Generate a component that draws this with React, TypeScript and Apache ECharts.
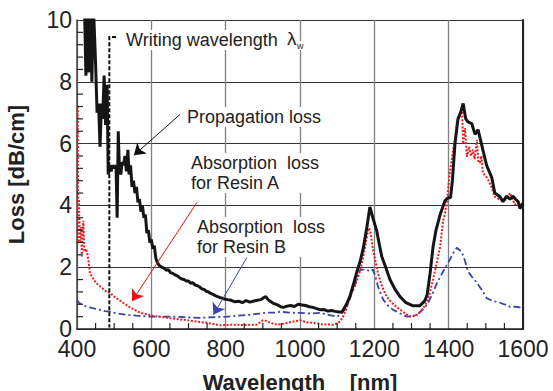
import React, { useEffect, useRef } from "react";
import * as echarts from "echarts";

const xTicks = { min: 400, max: 1600, interval: 200 };
const yTicks = { min: 0, max: 10, interval: 2 };
const xMinorTicks = [450, 500, 550, 650, 700, 750, 850, 900, 950, 1050, 1100, 1150, 1250, 1300, 1350, 1450, 1500, 1550];
const yMinorTicks = [0.4, 0.8, 1.2, 1.6, 2.4, 2.8, 3.2, 3.6, 4.4, 4.8, 5.2, 5.6, 6.4, 6.8, 7.2, 7.6, 8.4, 8.8, 9.2, 9.6];

const propagationLoss: [number, number][] = [
  [420, 10.5], [424, 8.2], [427, 10.5], [432, 8.3], [436, 10.5], [440, 8.0], [444, 10.5], [450, 8.6],
  [454, 7.0], [458, 7.3], [462, 5.9], [466, 7.3], [469, 6.8], [473, 8.2], [477, 6.6], [481, 7.9],
  [484, 5.0], [488, 5.3], [492, 5.1], [495, 5.3], [500, 5.2], [505, 5.3], [508, 3.6], [511, 6.4],
  [514, 5.2], [518, 5.0], [521, 5.4], [525, 5.3], [529, 5.6], [533, 5.1], [537, 5.8], [540, 5.0],
  [544, 5.3], [548, 4.6], [552, 4.8], [556, 4.4], [560, 4.6], [564, 4.1], [568, 4.2], [572, 3.8],
  [576, 4.0], [580, 3.6], [584, 3.7], [588, 3.1], [592, 3.2], [596, 2.8], [600, 2.9], [604, 2.6],
  [608, 2.7], [612, 2.3], [616, 2.15], [622, 2.05], [628, 2.0], [634, 1.97], [640, 1.9], [646, 1.92],
  [652, 1.82], [658, 1.8], [664, 1.75], [670, 1.72], [676, 1.66], [682, 1.62], [688, 1.6], [694, 1.55],
  [700, 1.55], [706, 1.48], [712, 1.5], [718, 1.42], [724, 1.4], [730, 1.36], [736, 1.3], [742, 1.28],
  [748, 1.22], [754, 1.2], [760, 1.15], [766, 1.12], [772, 1.08], [778, 1.05], [784, 1.02], [790, 1.0],
  [797, 0.97], [805, 0.95], [815, 0.93], [825, 0.88], [835, 0.9], [845, 0.85], [855, 0.92], [865, 0.87],
  [874, 0.9], [885, 0.93], [895, 0.95], [903, 1.02], [908, 1.05], [914, 0.95], [922, 0.88], [930, 0.82],
  [940, 0.78], [948, 0.72], [956, 0.7], [965, 0.74], [975, 0.76], [985, 0.73], [995, 0.8], [1005, 0.78],
  [1015, 0.76], [1025, 0.72], [1035, 0.7], [1045, 0.66], [1055, 0.62], [1065, 0.63], [1075, 0.58],
  [1085, 0.6], [1095, 0.57], [1105, 0.55], [1113, 0.55], [1125, 0.8], [1134, 1.05], [1145, 1.5],
  [1153, 1.85], [1162, 2.2], [1170, 2.6], [1180, 3.3], [1188, 3.95], [1196, 3.6], [1206, 3.2],
  [1214, 2.7], [1220, 2.35], [1232, 1.95], [1242, 1.6], [1255, 1.3], [1269, 1.05], [1285, 0.85],
  [1304, 0.75], [1322, 0.75], [1335, 0.9], [1342, 1.1], [1350, 1.8], [1358, 2.66], [1366, 3.2],
  [1377, 3.7], [1390, 4.15], [1398, 4.25], [1405, 4.25], [1410, 4.8], [1417, 6.0], [1425, 6.8],
  [1432, 7.0], [1439, 7.3], [1446, 6.8], [1452, 6.7], [1462, 6.65], [1471, 6.3], [1479, 6.45],
  [1489, 5.95], [1502, 5.3], [1516, 4.9], [1524, 4.4], [1538, 4.28], [1546, 4.12], [1556, 4.3],
  [1565, 4.2], [1573, 4.3], [1580, 4.2], [1587, 4.12], [1592, 3.9], [1600, 4.08],
];

const resinA: [number, number][] = [
  [402, 7.2], [402.5, 4.5], [403, 2.8], [405, 4.2], [408, 2.8], [411, 3.3], [413, 2.35], [417, 3.5],
  [420, 2.5], [424, 2.6], [427, 2.47], [431, 2.2], [435, 1.8], [440, 1.7], [448, 1.55], [455, 1.45],
  [462, 1.38], [470, 1.3], [480, 1.2], [489, 1.17], [500, 1.05], [512, 0.95], [524, 0.85], [540, 0.72],
  [555, 0.62], [569, 0.53], [590, 0.47], [605, 0.42], [623, 0.4], [650, 0.35], [685, 0.3], [715, 0.25],
  [750, 0.2], [785, 0.12], [820, 0.14], [850, 0.13], [884, 0.14], [900, 0.28], [908, 0.27], [920, 0.2],
  [938, 0.14], [960, 0.18], [985, 0.25], [1000, 0.28], [1018, 0.22], [1035, 0.2], [1060, 0.15],
  [1089, 0.14], [1100, 0.18], [1108, 0.25], [1116, 0.4], [1125, 0.65], [1134, 1.05], [1148, 1.4],
  [1161, 1.85], [1168, 2.2], [1175, 2.66], [1182, 3.1], [1186, 3.27], [1190, 3.1], [1196, 2.6],
  [1203, 2.2], [1210, 1.8], [1220, 1.4], [1233, 1.05], [1247, 0.85], [1261, 0.7], [1278, 0.55],
  [1296, 0.4], [1305, 0.42], [1315, 0.46], [1330, 0.65], [1342, 0.88], [1350, 1.2], [1358, 1.6],
  [1367, 2.1], [1377, 2.66], [1385, 3.5], [1390, 3.75], [1395, 4.1], [1403, 5.05], [1412, 5.8],
  [1418, 6.2], [1422, 6.67], [1430, 6.9], [1436, 7.1], [1439, 6.0], [1444, 6.5], [1449, 5.57],
  [1455, 5.9], [1460, 5.6], [1465, 5.8], [1470, 5.5], [1476, 6.12], [1480, 5.4], [1484, 5.38],
  [1488, 5.6], [1492, 5.05], [1500, 4.95], [1506, 4.83], [1515, 4.6], [1524, 4.28], [1535, 4.2],
  [1552, 4.18], [1560, 4.3], [1565, 4.4], [1572, 4.2], [1578, 4.02], [1585, 4.1], [1592, 4.02],
  [1600, 4.02],
];

const resinB: [number, number][] = [
  [400, 0.95], [405, 0.85], [412, 0.8], [420, 0.75], [427, 0.72], [440, 0.68], [450, 0.65], [462, 0.62],
  [475, 0.58], [489, 0.56], [510, 0.5], [534, 0.46], [560, 0.43], [596, 0.4], [620, 0.4], [658, 0.4],
  [690, 0.38], [731, 0.36], [765, 0.38], [803, 0.4], [830, 0.43], [865, 0.46], [890, 0.5], [911, 0.53],
  [938, 0.53], [946, 0.56], [970, 0.53], [1000, 0.52], [1030, 0.5], [1054, 0.52], [1080, 0.45],
  [1100, 0.4], [1112, 0.5], [1126, 0.72], [1135, 1.0], [1143, 1.27], [1152, 1.6], [1161, 1.9],
  [1167, 1.92], [1180, 1.92], [1188, 1.86], [1196, 1.92], [1203, 1.7], [1210, 1.37], [1217, 1.15],
  [1224, 0.95], [1237, 0.75], [1251, 0.62], [1270, 0.5], [1288, 0.4], [1300, 0.42], [1315, 0.46],
  [1328, 0.6], [1342, 0.79], [1355, 1.1], [1369, 1.5], [1385, 1.86], [1395, 2.08], [1403, 2.24],
  [1412, 2.45], [1422, 2.63], [1430, 2.55], [1436, 2.47], [1444, 2.2], [1452, 1.86], [1465, 1.65],
  [1476, 1.5], [1490, 1.25], [1502, 1.0], [1520, 0.9], [1538, 0.85], [1550, 0.8], [1565, 0.72],
  [1580, 0.72], [1600, 0.69],
];

const writingWavelength: [number, number][] = [[505, 9.45], [487, 9.45], [487, 0.05]];
const arrowPropagation: [number, number][] = [[677, 6.94], [553, 5.62]];
const arrowResinA: [number, number][] = [[723, 4.1], [548, 0.9]];
const arrowResinB: [number, number][] = [[857, 2.31], [767, 0.46]];

const FONT = "Arial, 'Liberation Sans', Helvetica, sans-serif";

export default function App() {
  const ref = useRef<HTMLDivElement>(null);
  useEffect(() => {
    if (!ref.current) return;
    document.body.style.margin = "0";
    const chart = echarts.init(ref.current, null, { renderer: "svg" });
    const textStyle = (txt: string) => ({
      text: txt,
      font: `18px ${FONT}`,
      fill: "#222",
      lineHeight: 20,
      backgroundColor: "#fff",
      padding: [0, 2, 0, 2],
    });
    const TICK_LEN = 6;
    chart.setOption({
      animation: false,
      backgroundColor: "#fff",
      grid: { left: 77, right: 30, top: 20, bottom: 62, containLabel: false, outerBoundsMode: "none" },
      xAxis: {
        type: "value",
        min: xTicks.min,
        max: xTicks.max,
        interval: xTicks.interval,
        name: "Wavelength    [nm]",
        nameLocation: "middle",
        nameGap: 42,
        nameTextStyle: { fontFamily: FONT, fontWeight: "bold", fontSize: 22, color: "#222" },
        axisLine: { show: true, lineStyle: { color: "#222", width: 1.5 } },
        axisTick: { show: false },
        axisLabel: {
          fontFamily: FONT, fontSize: 23, color: "#222", margin: 8,
          formatter: (v: number) => String(v),
        },
        splitLine: { show: true, lineStyle: { color: "#808080", width: 1.3 } },
      },
      yAxis: [
        {
          type: "value",
          min: yTicks.min,
          max: yTicks.max,
          interval: yTicks.interval,
          name: "Loss [dB/cm]",
          nameLocation: "middle",
          nameGap: 50,
          nameTextStyle: { fontFamily: FONT, fontWeight: "bold", fontSize: 22, color: "#222" },
          axisLine: { show: true, lineStyle: { color: "#444", width: 1.5 } },
          axisTick: { show: false },
          axisLabel: { fontFamily: FONT, fontSize: 23, color: "#222", margin: 5 },
          splitLine: { show: true, lineStyle: { color: "#333", width: 1 } },
        },
        {
          type: "value",
          min: yTicks.min,
          max: yTicks.max,
          position: "right",
          axisLine: { show: true, lineStyle: { color: "#222", width: 2 } },
          axisTick: { show: false },
          axisLabel: { show: false },
          splitLine: { show: false },
        },
      ],
      series: [
        {
          type: "custom",
          name: "x minor ticks",
          data: xMinorTicks.map((v) => [v, yTicks.min]),
          silent: true,
          clip: false,
          z: 8,
          renderItem: (params: any, api: any) => {
            const p = api.coord([api.value(0), api.value(1)]);
            return {
              type: "line",
              shape: { x1: p[0], y1: p[1], x2: p[0], y2: p[1] - TICK_LEN },
              style: { stroke: "#222", lineWidth: 1.2, fill: null },
            };
          },
        },
        {
          type: "custom",
          name: "y minor ticks",
          data: yMinorTicks.map((v) => [xTicks.min, v]),
          silent: true,
          clip: false,
          z: 8,
          renderItem: (params: any, api: any) => {
            const p = api.coord([api.value(0), api.value(1)]);
            return {
              type: "line",
              shape: { x1: p[0], y1: p[1], x2: p[0] + TICK_LEN, y2: p[1] },
              style: { stroke: "#222", lineWidth: 1.2, fill: null },
            };
          },
        },
        {
          type: "line",
          name: "Resin B",
          data: resinB,
          showSymbol: false,
          symbol: "none",
          lineStyle: { color: "#3a45a8", width: 1.8, type: [7, 3, 2, 3] },
          z: 2,
        },
        {
          type: "line",
          name: "Resin A",
          data: resinA,
          showSymbol: false,
          symbol: "none",
          lineStyle: { color: "#ee1b1b", width: 2, type: [2, 1.6] },
          z: 3,
        },
        {
          type: "line",
          name: "Propagation",
          data: propagationLoss,
          showSymbol: false,
          symbol: "none",
          clip: true,
          lineStyle: { color: "#151515", width: 3 },
          z: 4,
        },
        {
          type: "lines",
          coordinateSystem: "cartesian2d",
          polyline: true,
          symbol: ["none", "arrow"],
          symbolSize: 7,
          lineStyle: { color: "#111", width: 2, type: [4, 2], opacity: 1 },
          data: [{ coords: writingWavelength }],
          z: 5,
        },
        {
          type: "lines",
          coordinateSystem: "cartesian2d",
          symbol: ["none", "arrow"],
          symbolSize: 11,
          lineStyle: { color: "#111", width: 1, opacity: 1 },
          data: [{ coords: arrowPropagation }],
          z: 6,
        },
        {
          type: "lines",
          coordinateSystem: "cartesian2d",
          symbol: ["none", "arrow"],
          symbolSize: 11,
          lineStyle: { color: "#f01010", width: 1, opacity: 1 },
          data: [{ coords: arrowResinA }],
          z: 6,
        },
        {
          type: "lines",
          coordinateSystem: "cartesian2d",
          symbol: ["none", "arrow"],
          symbolSize: 11,
          lineStyle: { color: "#3a45a8", width: 1, opacity: 1 },
          data: [{ coords: arrowResinB }],
          z: 6,
        },
      ],
      graphic: [
        { type: "text", left: 124, top: 30, z: 10, style: textStyle("Writing wavelength") },
        { type: "text", left: 287, top: 29, z: 10, style: { text: "λ", font: `19px ${FONT}`, fill: "#222", backgroundColor: "#fff" } },
        { type: "text", left: 297, top: 41, z: 10, style: { text: "w", font: `9px ${FONT}`, fill: "#222", backgroundColor: "#fff" } },
        { type: "text", left: 185, top: 107, z: 10, style: textStyle("Propagation loss") },
        { type: "text", left: 189, top: 153, z: 10, style: textStyle("Absorption  loss\nfor Resin A") },
        { type: "text", left: 195, top: 217, z: 10, style: textStyle("Absorption  loss\nfor Resin B") },
      ],
    });
    return () => chart.dispose();
  }, []);
  return <div ref={ref} style={{ width: 553, height: 391 }} />;
}
